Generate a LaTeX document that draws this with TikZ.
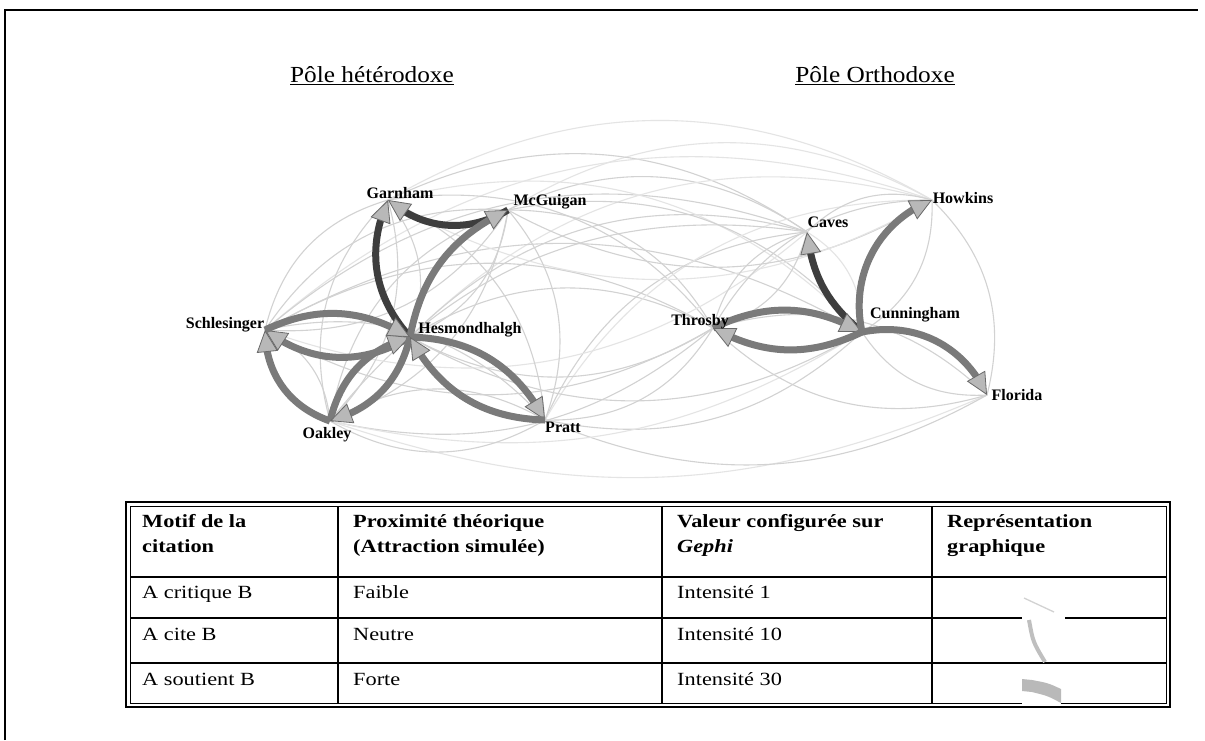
\documentclass[tikz,border=0pt]{standalone}
\usepackage{fontspec}
\setmainfont{Liberation Serif}
\newfontfamily\tabfont{Liberation Serif}[FakeStretch=1.2]
\newfontfamily\titfont{Liberation Serif}[FakeStretch=1.1]
\usetikzlibrary{arrows.meta,bending}
\definecolor{edgemid}{HTML}{7A7A7A}
\definecolor{edgedark}{HTML}{3E3E3E}
\definecolor{tipfill}{HTML}{B8B8B8}
\definecolor{tipdraw}{HTML}{6A6A6A}
\definecolor{thinA}{HTML}{D2D2D2}
\definecolor{thinB}{HTML}{E4E4E4}
\begin{document}
\begin{tikzpicture}[x=1pt,y=-1pt,
  lab/.style={font=\bfseries\fontsize{16}{19}\selectfont, inner sep=0pt},
  ttl/.style={font=\titfont\fontsize{23}{27}\selectfont, inner sep=0pt},
  cell/.style={font=\tabfont\fontsize{18.6}{22}\selectfont, anchor=base west, inner sep=0pt},
  hcell/.style={cell, font=\tabfont\bfseries\fontsize{18.6}{22}\selectfont},
  thinedge/.style={draw=thinA, line width=1.1pt, bend left=30},
  faintedge/.style={draw=thinB, line width=1.1pt, bend left=30},
  tip/.style={-{Triangle[length=22pt,width=21pt,fill=tipfill,color=tipdraw,line width=0.8pt]}},
  thickedge/.style={draw=edgemid, line width=7pt, tip},
  darkedge/.style={draw=edgedark, line width=7pt, tip},
  frame/.style={line width=2pt},
  tline/.style={line width=2pt}
]
\useasboundingbox (0,0) rectangle (1205,740);
\fill[white] (0,0) rectangle (1205,740);

% frame
\draw[frame] (5,740) -- (5,10) -- (1198,10);

% titles
\node[ttl] (t1) at (372,76) {\underline{Pôle hétérodoxe}};
\node[ttl] (t2) at (875,76) {\underline{Pôle Orthodoxe}};

% node points
\coordinate (G) at (388,200);
\coordinate (M) at (508,210);
\coordinate (S) at (265,330);
\coordinate (H) at (410,337);
\coordinate (O) at (330,421);
\coordinate (P) at (545,420);
\coordinate (T) at (713,328);
\coordinate (Ca) at (807,232);
\coordinate (Cu) at (862,332);
\coordinate (Ho) at (932,200);
\coordinate (F) at (987,395);

% thin background edges
\draw[faintedge] (G) to (Ho);
\draw[faintedge] (M) to (Ho);
\draw[thinedge] (G) to (Ca);
\draw[thinedge] (M) to (Ca);
\draw[faintedge] (S) to (Ho);
\draw[thinedge] (S) to (Ca);
\draw[faintedge] (H) to (Ho);
\draw[thinedge] (H) to (Ca);
\draw[thinedge] (S) to (Cu);
\draw[faintedge] (G) to (Cu);
\draw[thinedge] (M) to (Cu);
\draw[thinedge] (G) to (T);
\draw[thinedge] (M) to (T);
\draw[thinedge] (S) to (T);
\draw[thinedge] (H) to (T);
\draw[thinedge] (P) to (Ca);
\draw[faintedge] (P) to (Ho);
\draw[thinedge] (O) to (Ca);
\draw[faintedge, bend left=21] (F) to (O);
\draw[thinedge, bend left=26] (F) to (P);
\draw[thinedge, bend left=27] (Cu) to (P);
\draw[thinedge, bend left=26] (T) to (O);
\draw[faintedge, bend left=22] (Cu) to (O);
\draw[thinedge] (T) to (P);
\draw[thinedge] (Cu) to (H);
\draw[thinedge] (T) to (H);
\draw[thinedge] (T) to (S);
\draw[faintedge] (Ca) to (S);
\draw[thinedge] (Ho) to (M);
\draw[faintedge] (Ho) to (G);
\draw[thinedge] (S) to (G);
\draw[thinedge] (O) to (G);
\draw[thinedge] (G) to (O);
\draw[thinedge] (M) to (S);
\draw[thinedge] (S) to (M);
\draw[thinedge] (O) to (M);
\draw[thinedge] (M) to (O);
\draw[thinedge] (G) to (P);
\draw[thinedge] (M) to (P);
\draw[thinedge] (S) to (O);
\draw[thinedge] (O) to (P);
\draw[thinedge] (P) to (O);
\draw[thinedge] (S) to (P);
\draw[thinedge] (G) to (H);
\draw[thinedge] (M) to (H);
\draw[thinedge] (T) to (Ca);
\draw[thinedge] (Ca) to (T);
\draw[thinedge] (Ca) to (Ho);
\draw[thinedge] (Ho) to (F);
\draw[thinedge] (T) to (Ho);
\draw[thinedge] (T) to (F);
\draw[thinedge] (F) to (T);
\draw[thinedge] (Ho) to (Cu);
\draw[thinedge] (F) to (Cu);
\draw[faintedge] (Ca) to (Cu);

% thick edges
\draw[darkedge] (H) to[bend left=33] (G);
\draw[darkedge] (M) to[bend left=35] (G);
\draw[thickedge] (H) to[bend left=27] (M);
\draw[thickedge] (H) to[bend left=34] (S);
\draw[thickedge] (S) to[bend left=28] (H);
\draw[thickedge] (O) to[bend left=35] (S);
\draw[thickedge] (O) to[bend left=30] (H);
\draw[thickedge] (H) to[bend left=30] (O);
\draw[thickedge] (H) to[bend left=30] (P);
\draw[thickedge] (P) to[bend left=30] (H);
\draw[darkedge] (Cu) to[bend left=22] (Ca);
\draw[thickedge] (T) to[bend left=27] (Cu);
\draw[thickedge] (Cu) to[bend left=27] (T);
\draw[thickedge] (Cu) to[bend left=40] (Ho);
\draw[thickedge] (Cu) to[bend left=38] (F);

% labels
\node[lab] (lG) at (400,193) {Garnham};
\node[lab] (lM) at (550,202) {McGuigan};
\node[lab] (lS) at (225,325) {Schlesinger};
\node[lab] (lH) at (470,330) {Hesmondhalgh};
\node[lab] (lO) at (327,435) {Oakley};
\node[lab] (lP) at (563,427) {Pratt};
\node[lab] (lHo) at (963,198) {Howkins};
\node[lab] (lCa) at (828,222) {Caves};
\node[lab] (lT) at (700,322) {Throsby};
\node[lab] (lCu) at (915,315) {Cunningham};
\node[lab] (lF) at (1017,395) {Florida};

% table
\draw[line width=2.4pt] (126,502) rectangle (1170,707);
\draw[line width=0.8pt] (130,506) rectangle (1166,703);
\draw[tline] (130,577) -- (1166,577);
\draw[tline] (130,618) -- (1166,618);
\draw[tline] (130,663) -- (1166,663);
\draw[tline] (338,506) -- (338,703);
\draw[tline] (662,506) -- (662,703);
\draw[tline] (932,506) -- (932,703);

% representation samples
\draw[draw=thinA, line width=1.3pt] (1024,598) -- (1054,612);
\fill[white] (1022,616) rectangle (1065,620.5);
\draw[draw=gray!50, line width=4pt] (1029,620) .. controls (1033,642) .. (1045,662);
\fill[white] (1022,701) rectangle (1061,705);
\fill[gray!55] (1022,679) -- (1032,680) .. controls (1048,683) .. (1061,689) -- (1061,703) .. controls (1048,696) .. (1032,692) -- (1022,691) -- cycle;

% table text
\node[hcell] (h1a) at (142,527) {Motif de la};
\node[hcell] (h1b) at (142,552) {citation};
\node[hcell] (h2a) at (353,527) {Proximité théorique};
\node[hcell] (h2b) at (353,552) {(Attraction simulée)};
\node[hcell] (h3a) at (677,527) {Valeur configurée sur};
\node[hcell] (h3b) at (677,552) {\itshape Gephi};
\node[hcell] (h4a) at (947,527) {Représentation};
\node[hcell] (h4b) at (947,552) {graphique};
\node[cell] (r1a) at (142,598) {A critique B};
\node[cell] (r1b) at (353,598) {Faible};
\node[cell] (r1c) at (677,598) {Intensité 1};
\node[cell] (r2a) at (142,640) {A cite B};
\node[cell] (r2b) at (353,640) {Neutre};
\node[cell] (r2c) at (677,640) {Intensité 10};
\node[cell] (r3a) at (142,685) {A soutient B};
\node[cell] (r3b) at (353,685) {Forte};
\node[cell] (r3c) at (677,685) {Intensité 30};
\end{tikzpicture}
\end{document}
